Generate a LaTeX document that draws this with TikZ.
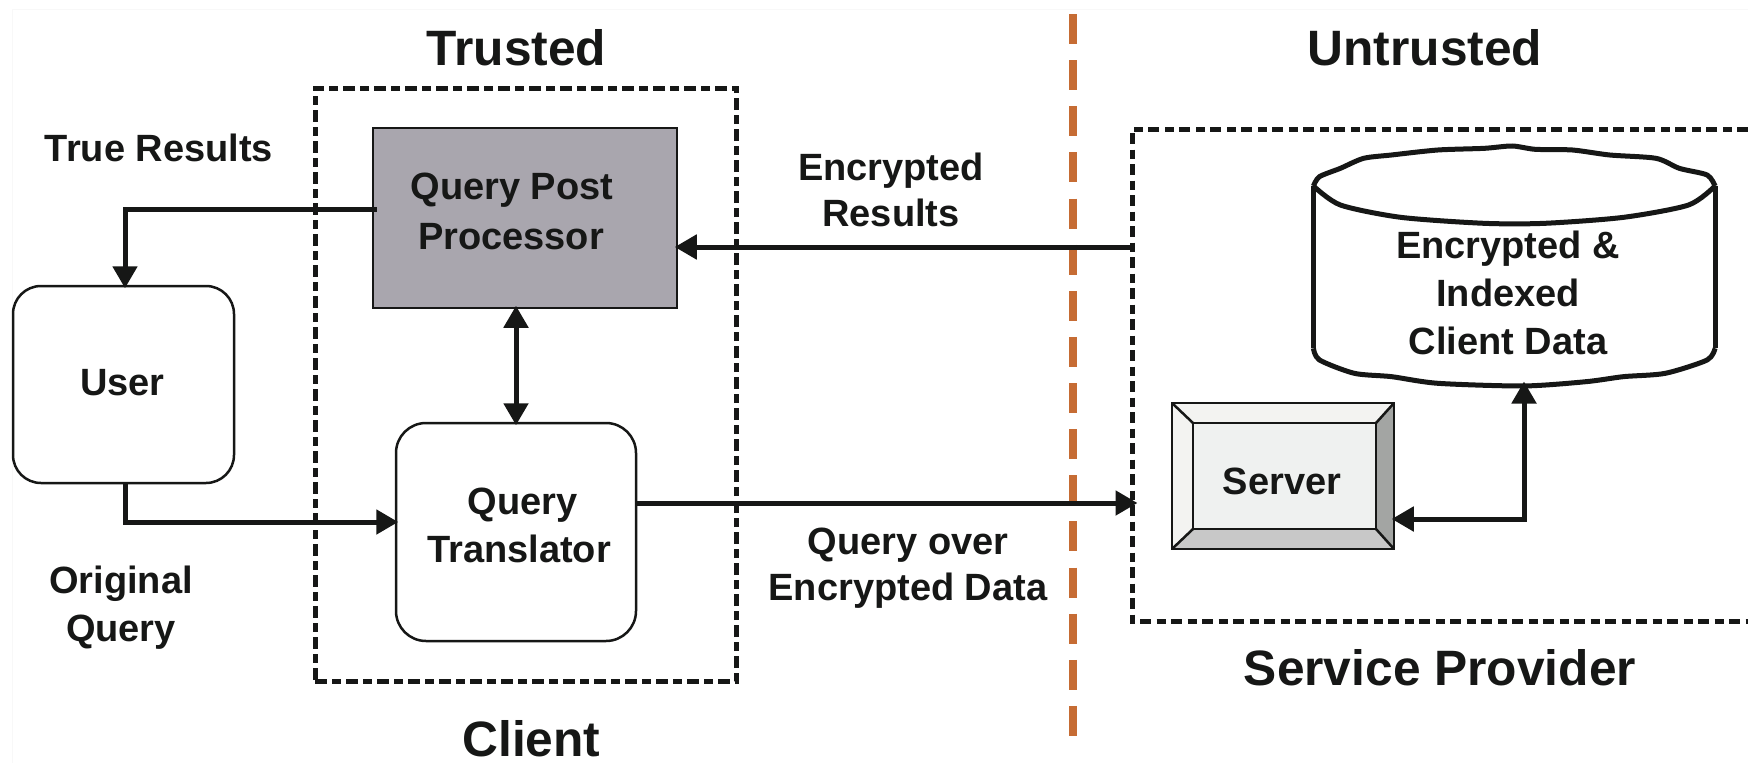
\documentclass[tikz,border=0pt]{standalone}
\usepackage{fontspec}
\setmainfont{Liberation Sans}
\usetikzlibrary{arrows.meta,calc}
\definecolor{ink}{HTML}{161716}
\definecolor{orangeline}{HTML}{C66C34}
\definecolor{qppfill}{HTML}{A9A6AE}
\definecolor{papermark}{HTML}{F8F8F8}
\definecolor{srvface}{HTML}{EFF1F0}
\definecolor{srvlight}{HTML}{F3F3F1}
\definecolor{srvdark}{HTML}{A3A5A3}
\definecolor{srvmid}{HTML}{C8C8C8}
\tikzset{
  x=1pt,y=-1pt,
  lbl/.style={inner sep=0pt,text=ink,align=center,font=\fontsize{38}{48}\selectfont\bfseries},
  title/.style={inner sep=0pt,text=ink,anchor=base,font=\fontsize{49.7}{55}\selectfont\bfseries},
  boxline/.style={draw=ink,line width=2.5pt},
  conn/.style={draw=ink,line width=5pt},
  connend/.style={shorten >=-3.5pt},
  connstart/.style={shorten <=-3.5pt},
  tip/.tip={Triangle[length=22pt,width=24pt]},
  blackdash/.style={draw=ink,line width=5pt,dash pattern=on 12pt off 5pt on 9pt off 5pt},
  trustline/.style={draw=orangeline,line width=8pt,dash pattern=on 30pt off 16.13pt},
}
\begin{document}
\begin{tikzpicture}
\useasboundingbox (0,0) rectangle (1748,763);
% faint paper edge
\draw[papermark,line width=1pt] (12,763) -- (12,9) -- (1748,9);
% trust boundary
\coordinate (tbtop) at (1073,14);
\coordinate (tbbot) at (1073,736);
\draw[trustline] (tbtop) -- (tbbot);
% dashed groups
\node[blackdash,rectangle,inner sep=0pt,minimum width=421pt,minimum height=593pt] (client) at (525.5,384.5) {};
\coordinate (spne) at (1748,129);
\coordinate (spnw) at (1132,129);
\coordinate (spsw) at (1132,621);
\coordinate (spse) at (1748,621);
\draw[blackdash,dash pattern=on 11pt off 5.5pt on 9pt off 5.5pt] (spne) -- (spnw) -- (spsw) -- (spse);
% boxes
\node[boxline,fill=qppfill,rectangle,lbl,inner sep=0pt,minimum width=304pt,minimum height=180pt,text height=84pt,text depth=22pt] (qpp) at (525,218) {Query Post\hspace*{26pt}\\[1.5pt]Processor\hspace*{28pt}};
\node[boxline,fill=white,rectangle,rounded corners=30pt,lbl,minimum width=240pt,minimum height=218pt,text height=80pt,text depth=20pt] (qt) at (516,532) {\hspace*{13pt}Query\\\hspace*{6pt}Translator};
\node[boxline,fill=white,rectangle,rounded corners=28pt,lbl,minimum width=221pt,minimum height=197pt,text height=30pt,text depth=9pt] (user) at (123.5,384.5) {User\hspace*{2pt}};
% server
\fill[srvface] (1172,403) rectangle (1394,549);
\fill[srvlight] (1172,403) -- (1394,403) -- (1376,423) -- (1193,423) -- (1193,529) -- (1172,549) -- cycle;
\fill[srvdark] (1394,403) -- (1394,549) -- (1376,529) -- (1376,423) -- cycle;
\fill[srvmid] (1172,549) -- (1394,549) -- (1376,529) -- (1193,529) -- cycle;
\draw[ink,line width=2.5pt] (1172,403) -- (1193,423) (1394,403) -- (1376,423) (1172,549) -- (1193,529) (1394,549) -- (1376,529);
\draw[ink,line width=2.5pt] (1193,423) rectangle (1376,529);
\node[boxline,rectangle,lbl,minimum width=222pt,minimum height=146pt,text height=36pt,text depth=0pt] (srv) at (1283,476) {Server\hspace*{2pt}};
% database
\begin{scope}[shift={(1020,100)},x=0.4643pt,y=-0.3333pt,ink,line width=5pt,line join=round]
\draw plot[smooth,tension=.45] coordinates {(632,258)(645,230)(690,205)(740,175)(800,165)(900,150)(1000,145)(1060,138)(1110,148)(1190,150)(1270,165)(1370,175)(1420,205)(1480,225)(1497,258)};
\draw plot[smooth,tension=.45] coordinates {(632,258)(690,315)(820,352)(1000,370)(1130,370)(1300,352)(1440,315)(1497,258)};
\draw (632,258) -- (632,745) (1497,258) -- (1497,745);
\draw plot[smooth,tension=.45] coordinates {(632,745)(645,780)(720,820)(800,830)(900,850)(1085,858)(1220,845)(1300,830)(1390,820)(1480,780)(1497,745)};
\end{scope}
\node[lbl,anchor=center] (db) at (1508,292.5) {Encrypted \&\\Indexed\\Client Data};
\coordinate (dbbottom) at (1524,385);
% connectors
\coordinate (spa) at (1133,247);
\coordinate (spb) at (1134,503);
\path[conn,connend,-{tip}] ([xshift=5pt,yshift=9pt]qpp.west) -| ([xshift=1.5pt]user.north);
\path[conn,connend,-{tip}] ([xshift=1.5pt]user.south) |- ([yshift=10pt]qt.west);
\path[conn,connend,connstart,{tip}-{tip}] (qt.north |- qpp.south) -- (qt.north);
\path[conn,connend,-{tip}] (spa) -- (qpp.east |- spa);
\path[conn,connend,-{tip}] (qt.east |- spb) -- (spb);
\path[conn,connend,connstart,{tip}-{tip}] ([yshift=-43pt]srv.east) -| (dbbottom);
% labels
\node[title] (trusted) at (516.5,65) {Trusted};
\node[title] (untrusted) at (1425,65) {Untrusted};
\node[title] (sp) at (1440,685) {Service Provider};
\node[title] (clientlbl) at (531.5,756) {Client};
\node[lbl,anchor=center] (tr) at (159,148) {True Results};
\node[lbl,anchor=center] (oq) at (121,608) {Original\\Query};
\node[lbl,anchor=center] (er) at (891,189.7) {Encrypted\\[-2pt]Results};
\node[lbl,anchor=center] (qe) at (908,568) {Query over\\[-1.5pt]Encrypted Data};
\end{tikzpicture}
\end{document}
